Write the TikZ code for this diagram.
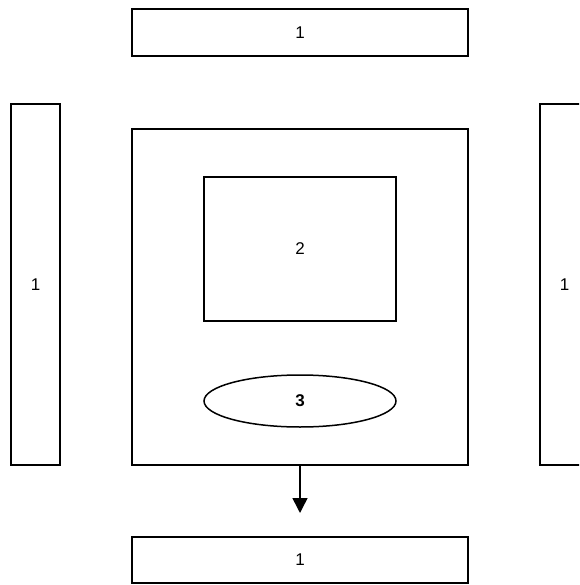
\documentclass[tikz,border=0pt]{standalone}
\usepackage{fontspec}
\setmainfont{Liberation Sans}
\usetikzlibrary{arrows.meta,shapes.geometric}
\tikzset{
  blk/.style     = {draw=black, line width=1.5pt, fill=white, align=center,
                    font=\fontsize{17}{19}\selectfont, inner sep=0pt},
  wide/.style    = {blk, minimum width=336pt, minimum height=47pt},
  tall/.style    = {blk, minimum width=49pt, minimum height=361pt},
  core/.style    = {blk, ellipse, minimum width=192pt, minimum height=52pt,
                    font=\fontsize{17}{19}\selectfont\bfseries},
  flow/.style    = {draw=black, line width=1.5pt, -{Triangle[length=15pt,width=15pt]}},
}

\begin{document}
\begin{tikzpicture}[x=1pt, y=-1pt]
    \useasboundingbox (0,0) rectangle (579,585);
    \clip (0,0) rectangle (579,585);

    \node[wide] (top)   at (300, 32.5)  {1};
    \node[tall] (left)  at (35.5, 284.5) {1};
    \node[tall] (right) at (564.5, 284.5) {1};

    \node[blk, minimum width=336pt, minimum height=336pt] (outer) at (300, 297) {};
    \node[blk, minimum width=192pt, minimum height=144pt] (inner) at (300, 249) {2};
    \node[core] (oval) at (300, 401) {3};

    \node[wide, minimum height=46pt] (bottom) at (300, 560) {1};

    \coordinate (tip) at (300, 513);
    \draw[flow] (outer.south) -- (tip);
  \end{tikzpicture}
\end{document}
